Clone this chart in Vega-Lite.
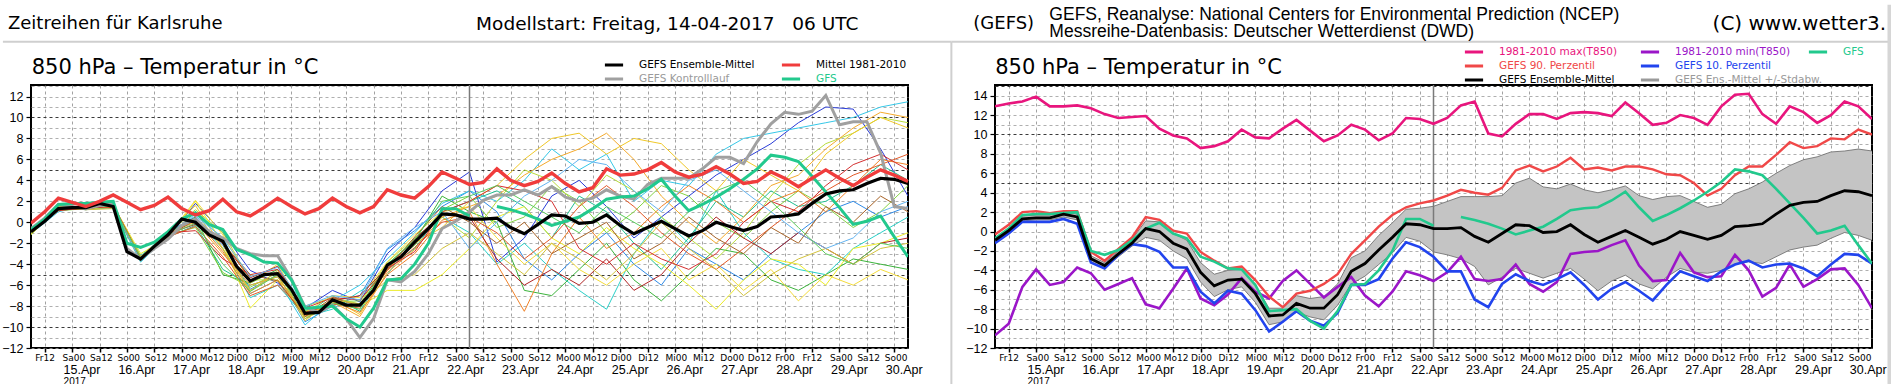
{
"$schema":"https://vega.github.io/schema/vega-lite/v6.json",
"padding":0,
"autosize":{"type":"pad"},
"background":"white",
"bounds":"flush",
"spacing":87,
"config":{"view":{"stroke":"#000","strokeWidth":2},"axis":{"labelColor":"#000","tickColor":"#000","domain":false}},
"resolve":{"scale":{"y":"independent","stroke":"independent","color":"independent"},"legend":{"stroke":"independent","color":"independent"}},
"datasets":{
"ens":[
{"h":0,"s":"m01","v":-1.0},{"h":12,"s":"m01","v":1.2},{"h":24,"s":"m01","v":1.3},{"h":36,"s":"m01","v":1.5},{"h":48,"s":"m01","v":-3.4},{"h":60,"s":"m01","v":-1.5},{"h":72,"s":"m01","v":1.8},{"h":84,"s":"m01","v":-1.0},{"h":96,"s":"m01","v":-4.6},{"h":108,"s":"m01","v":-5.8},{"h":120,"s":"m01","v":-8.2},{"h":132,"s":"m01","v":-6.5},{"h":144,"s":"m01","v":-7.6},{"h":156,"s":"m01","v":-3.0},{"h":168,"s":"m01","v":-0.5},{"h":180,"s":"m01","v":3.0},{"h":192,"s":"m01","v":4.8},{"h":204,"s":"m01","v":-3.8},{"h":216,"s":"m01","v":-1.5},{"h":228,"s":"m01","v":2.5},{"h":240,"s":"m01","v":4.0},{"h":252,"s":"m01","v":1.5},{"h":264,"s":"m01","v":-1.5},{"h":276,"s":"m01","v":0.5},{"h":288,"s":"m01","v":2.5},{"h":300,"s":"m01","v":4.5},{"h":312,"s":"m01","v":6.0},{"h":324,"s":"m01","v":7.5},{"h":336,"s":"m01","v":9.5},{"h":348,"s":"m01","v":11.0},{"h":360,"s":"m01","v":10.8},{"h":372,"s":"m01","v":7.0},{"h":384,"s":"m01","v":2.5},
{"h":0,"s":"m02","v":-0.8},{"h":12,"s":"m02","v":1.4},{"h":24,"s":"m02","v":1.2},{"h":36,"s":"m02","v":1.4},{"h":48,"s":"m02","v":-3.6},{"h":60,"s":"m02","v":-0.9},{"h":72,"s":"m02","v":0.5},{"h":84,"s":"m02","v":-2.2},{"h":96,"s":"m02","v":-6.4},{"h":108,"s":"m02","v":-5.0},{"h":120,"s":"m02","v":-9.5},{"h":132,"s":"m02","v":-8.0},{"h":144,"s":"m02","v":-7.0},{"h":156,"s":"m02","v":-2.6},{"h":168,"s":"m02","v":-0.8},{"h":180,"s":"m02","v":1.5},{"h":192,"s":"m02","v":3.0},{"h":204,"s":"m02","v":1.0},{"h":216,"s":"m02","v":-3.5},{"h":228,"s":"m02","v":-5.5},{"h":240,"s":"m02","v":-3.0},{"h":252,"s":"m02","v":-1.0},{"h":264,"s":"m02","v":-4.0},{"h":276,"s":"m02","v":-6.0},{"h":288,"s":"m02","v":-2.5},{"h":300,"s":"m02","v":-4.0},{"h":312,"s":"m02","v":-5.5},{"h":324,"s":"m02","v":-3.0},{"h":336,"s":"m02","v":-1.0},{"h":348,"s":"m02","v":1.0},{"h":360,"s":"m02","v":2.0},{"h":372,"s":"m02","v":0.5},{"h":384,"s":"m02","v":1.5},
{"h":0,"s":"m03","v":-1.1},{"h":12,"s":"m03","v":1.0},{"h":24,"s":"m03","v":1.6},{"h":36,"s":"m03","v":1.3},{"h":48,"s":"m03","v":-3.8},{"h":60,"s":"m03","v":-1.3},{"h":72,"s":"m03","v":0.8},{"h":84,"s":"m03","v":-1.5},{"h":96,"s":"m03","v":-6.8},{"h":108,"s":"m03","v":-5.5},{"h":120,"s":"m03","v":-9.8},{"h":132,"s":"m03","v":-7.5},{"h":144,"s":"m03","v":-6.0},{"h":156,"s":"m03","v":-3.5},{"h":168,"s":"m03","v":-1.0},{"h":180,"s":"m03","v":1.8},{"h":192,"s":"m03","v":3.0},{"h":204,"s":"m03","v":2.0},{"h":216,"s":"m03","v":4.0},{"h":228,"s":"m03","v":7.0},{"h":240,"s":"m03","v":5.0},{"h":252,"s":"m03","v":6.5},{"h":264,"s":"m03","v":2.0},{"h":276,"s":"m03","v":4.0},{"h":288,"s":"m03","v":3.5},{"h":300,"s":"m03","v":6.5},{"h":312,"s":"m03","v":8.0},{"h":324,"s":"m03","v":8.5},{"h":336,"s":"m03","v":9.0},{"h":348,"s":"m03","v":9.5},{"h":360,"s":"m03","v":10.0},{"h":372,"s":"m03","v":11.0},{"h":384,"s":"m03","v":11.5},
{"h":0,"s":"m04","v":-0.9},{"h":12,"s":"m04","v":1.5},{"h":24,"s":"m04","v":1.5},{"h":36,"s":"m04","v":1.6},{"h":48,"s":"m04","v":-3.2},{"h":60,"s":"m04","v":-1.0},{"h":72,"s":"m04","v":0.2},{"h":84,"s":"m04","v":-2.5},{"h":96,"s":"m04","v":-7.2},{"h":108,"s":"m04","v":-6.0},{"h":120,"s":"m04","v":-9.0},{"h":132,"s":"m04","v":-8.3},{"h":144,"s":"m04","v":-6.6},{"h":156,"s":"m04","v":-5.0},{"h":168,"s":"m04","v":-1.5},{"h":180,"s":"m04","v":0.5},{"h":192,"s":"m04","v":-1.0},{"h":204,"s":"m04","v":-4.0},{"h":216,"s":"m04","v":-2.0},{"h":228,"s":"m04","v":-4.5},{"h":240,"s":"m04","v":-6.5},{"h":252,"s":"m04","v":-8.3},{"h":264,"s":"m04","v":-3.0},{"h":276,"s":"m04","v":0.5},{"h":288,"s":"m04","v":-2.0},{"h":300,"s":"m04","v":3.0},{"h":312,"s":"m04","v":-1.0},{"h":324,"s":"m04","v":-3.5},{"h":336,"s":"m04","v":-4.5},{"h":348,"s":"m04","v":-5.0},{"h":360,"s":"m04","v":-2.5},{"h":372,"s":"m04","v":-1.0},{"h":384,"s":"m04","v":0.5},
{"h":0,"s":"m05","v":-1.0},{"h":12,"s":"m05","v":1.3},{"h":24,"s":"m05","v":1.5},{"h":36,"s":"m05","v":1.5},{"h":48,"s":"m05","v":-3.5},{"h":60,"s":"m05","v":-1.4},{"h":72,"s":"m05","v":-0.3},{"h":84,"s":"m05","v":-4.5},{"h":96,"s":"m05","v":-6.0},{"h":108,"s":"m05","v":-5.2},{"h":120,"s":"m05","v":-8.8},{"h":132,"s":"m05","v":-7.0},{"h":144,"s":"m05","v":-8.5},{"h":156,"s":"m05","v":-4.5},{"h":168,"s":"m05","v":-2.5},{"h":180,"s":"m05","v":1.0},{"h":192,"s":"m05","v":2.0},{"h":204,"s":"m05","v":3.0},{"h":216,"s":"m05","v":1.5},{"h":228,"s":"m05","v":-1.5},{"h":240,"s":"m05","v":2.5},{"h":252,"s":"m05","v":1.0},{"h":264,"s":"m05","v":-2.0},{"h":276,"s":"m05","v":-4.5},{"h":288,"s":"m05","v":-1.5},{"h":300,"s":"m05","v":2.0},{"h":312,"s":"m05","v":0.5},{"h":324,"s":"m05","v":3.0},{"h":336,"s":"m05","v":1.5},{"h":348,"s":"m05","v":2.0},{"h":360,"s":"m05","v":3.5},{"h":372,"s":"m05","v":5.5},{"h":384,"s":"m05","v":4.0},
{"h":0,"s":"m06","v":-0.8},{"h":12,"s":"m06","v":1.2},{"h":24,"s":"m06","v":1.4},{"h":36,"s":"m06","v":1.7},{"h":48,"s":"m06","v":-3.4},{"h":60,"s":"m06","v":-1.0},{"h":72,"s":"m06","v":0.5},{"h":84,"s":"m06","v":-5.0},{"h":96,"s":"m06","v":-5.8},{"h":108,"s":"m06","v":-4.5},{"h":120,"s":"m06","v":-9.2},{"h":132,"s":"m06","v":-7.8},{"h":144,"s":"m06","v":-8.0},{"h":156,"s":"m06","v":-4.0},{"h":168,"s":"m06","v":-1.8},{"h":180,"s":"m06","v":2.5},{"h":192,"s":"m06","v":1.0},{"h":204,"s":"m06","v":0.0},{"h":216,"s":"m06","v":-6.5},{"h":228,"s":"m06","v":-7.0},{"h":240,"s":"m06","v":-4.5},{"h":252,"s":"m06","v":-2.0},{"h":264,"s":"m06","v":-5.5},{"h":276,"s":"m06","v":-7.5},{"h":288,"s":"m06","v":-5.0},{"h":300,"s":"m06","v":-2.5},{"h":312,"s":"m06","v":-3.0},{"h":324,"s":"m06","v":-5.5},{"h":336,"s":"m06","v":-6.5},{"h":348,"s":"m06","v":-5.0},{"h":360,"s":"m06","v":-3.5},{"h":372,"s":"m06","v":-4.0},{"h":384,"s":"m06","v":-4.5},
{"h":0,"s":"m07","v":-0.9},{"h":12,"s":"m07","v":1.1},{"h":24,"s":"m07","v":1.3},{"h":36,"s":"m07","v":1.4},{"h":48,"s":"m07","v":-3.3},{"h":60,"s":"m07","v":-1.2},{"h":72,"s":"m07","v":-0.5},{"h":84,"s":"m07","v":-4.8},{"h":96,"s":"m07","v":-6.2},{"h":108,"s":"m07","v":-4.8},{"h":120,"s":"m07","v":-8.5},{"h":132,"s":"m07","v":-7.6},{"h":144,"s":"m07","v":-7.5},{"h":156,"s":"m07","v":-4.2},{"h":168,"s":"m07","v":-2.2},{"h":180,"s":"m07","v":1.2},{"h":192,"s":"m07","v":2.5},{"h":204,"s":"m07","v":-0.5},{"h":216,"s":"m07","v":0.5},{"h":228,"s":"m07","v":3.5},{"h":240,"s":"m07","v":2.0},{"h":252,"s":"m07","v":-1.0},{"h":264,"s":"m07","v":1.0},{"h":276,"s":"m07","v":3.5},{"h":288,"s":"m07","v":2.5},{"h":300,"s":"m07","v":0.0},{"h":312,"s":"m07","v":-1.5},{"h":324,"s":"m07","v":1.0},{"h":336,"s":"m07","v":3.0},{"h":348,"s":"m07","v":1.5},{"h":360,"s":"m07","v":-0.5},{"h":372,"s":"m07","v":1.0},{"h":384,"s":"m07","v":3.5},
{"h":0,"s":"m08","v":-1.2},{"h":12,"s":"m08","v":1.4},{"h":24,"s":"m08","v":1.2},{"h":36,"s":"m08","v":1.5},{"h":48,"s":"m08","v":-3.7},{"h":60,"s":"m08","v":-1.1},{"h":72,"s":"m08","v":1.2},{"h":84,"s":"m08","v":-1.0},{"h":96,"s":"m08","v":-5.5},{"h":108,"s":"m08","v":-5.5},{"h":120,"s":"m08","v":-8.0},{"h":132,"s":"m08","v":-7.2},{"h":144,"s":"m08","v":-7.8},{"h":156,"s":"m08","v":-3.8},{"h":168,"s":"m08","v":-1.5},{"h":180,"s":"m08","v":0.5},{"h":192,"s":"m08","v":-1.5},{"h":204,"s":"m08","v":2.0},{"h":216,"s":"m08","v":5.0},{"h":228,"s":"m08","v":4.0},{"h":240,"s":"m08","v":1.5},{"h":252,"s":"m08","v":4.5},{"h":264,"s":"m08","v":3.0},{"h":276,"s":"m08","v":0.5},{"h":288,"s":"m08","v":-1.5},{"h":300,"s":"m08","v":-3.5},{"h":312,"s":"m08","v":-1.0},{"h":324,"s":"m08","v":2.5},{"h":336,"s":"m08","v":5.5},{"h":348,"s":"m08","v":7.5},{"h":360,"s":"m08","v":8.5},{"h":372,"s":"m08","v":10.0},{"h":384,"s":"m08","v":9.5},
{"h":0,"s":"m09","v":-0.7},{"h":12,"s":"m09","v":1.5},{"h":24,"s":"m09","v":1.3},{"h":36,"s":"m09","v":1.6},{"h":48,"s":"m09","v":-3.0},{"h":60,"s":"m09","v":-1.5},{"h":72,"s":"m09","v":2.0},{"h":84,"s":"m09","v":-2.0},{"h":96,"s":"m09","v":-8.2},{"h":108,"s":"m09","v":-5.5},{"h":120,"s":"m09","v":-9.0},{"h":132,"s":"m09","v":-7.8},{"h":144,"s":"m09","v":-8.0},{"h":156,"s":"m09","v":-6.5},{"h":168,"s":"m09","v":-6.5},{"h":180,"s":"m09","v":-5.0},{"h":192,"s":"m09","v":-2.5},{"h":204,"s":"m09","v":0.5},{"h":216,"s":"m09","v":1.5},{"h":228,"s":"m09","v":-1.5},{"h":240,"s":"m09","v":-3.0},{"h":252,"s":"m09","v":-0.5},{"h":264,"s":"m09","v":-2.5},{"h":276,"s":"m09","v":-4.0},{"h":288,"s":"m09","v":-6.0},{"h":300,"s":"m09","v":-8.3},{"h":312,"s":"m09","v":-5.5},{"h":324,"s":"m09","v":-3.5},{"h":336,"s":"m09","v":-4.0},{"h":348,"s":"m09","v":-6.0},{"h":360,"s":"m09","v":-2.5},{"h":372,"s":"m09","v":-2.0},{"h":384,"s":"m09","v":-1.0},
{"h":0,"s":"m10","v":-1.0},{"h":12,"s":"m10","v":1.2},{"h":24,"s":"m10","v":1.6},{"h":36,"s":"m10","v":1.4},{"h":48,"s":"m10","v":-3.5},{"h":60,"s":"m10","v":-1.3},{"h":72,"s":"m10","v":2.1},{"h":84,"s":"m10","v":-1.2},{"h":96,"s":"m10","v":-5.8},{"h":108,"s":"m10","v":-4.0},{"h":120,"s":"m10","v":-8.6},{"h":132,"s":"m10","v":-7.0},{"h":144,"s":"m10","v":-7.2},{"h":156,"s":"m10","v":-3.8},{"h":168,"s":"m10","v":-1.2},{"h":180,"s":"m10","v":1.0},{"h":192,"s":"m10","v":1.5},{"h":204,"s":"m10","v":-1.5},{"h":216,"s":"m10","v":-4.0},{"h":228,"s":"m10","v":-2.0},{"h":240,"s":"m10","v":-4.5},{"h":252,"s":"m10","v":-6.0},{"h":264,"s":"m10","v":-4.0},{"h":276,"s":"m10","v":-2.5},{"h":288,"s":"m10","v":-5.5},{"h":300,"s":"m10","v":-4.0},{"h":312,"s":"m10","v":-6.5},{"h":324,"s":"m10","v":-4.5},{"h":336,"s":"m10","v":-7.5},{"h":348,"s":"m10","v":-5.0},{"h":360,"s":"m10","v":-6.0},{"h":372,"s":"m10","v":-4.5},{"h":384,"s":"m10","v":-5.5},
{"h":0,"s":"m11","v":-0.9},{"h":12,"s":"m11","v":1.3},{"h":24,"s":"m11","v":1.4},{"h":36,"s":"m11","v":1.5},{"h":48,"s":"m11","v":-3.6},{"h":60,"s":"m11","v":-0.9},{"h":72,"s":"m11","v":1.6},{"h":84,"s":"m11","v":-2.5},{"h":96,"s":"m11","v":-6.5},{"h":108,"s":"m11","v":-5.0},{"h":120,"s":"m11","v":-9.4},{"h":132,"s":"m11","v":-7.3},{"h":144,"s":"m11","v":-8.8},{"h":156,"s":"m11","v":-4.5},{"h":168,"s":"m11","v":-2.0},{"h":180,"s":"m11","v":-0.5},{"h":192,"s":"m11","v":2.0},{"h":204,"s":"m11","v":3.5},{"h":216,"s":"m11","v":6.0},{"h":228,"s":"m11","v":8.0},{"h":240,"s":"m11","v":8.5},{"h":252,"s":"m11","v":6.5},{"h":264,"s":"m11","v":8.0},{"h":276,"s":"m11","v":7.5},{"h":288,"s":"m11","v":5.0},{"h":300,"s":"m11","v":3.0},{"h":312,"s":"m11","v":6.0},{"h":324,"s":"m11","v":4.5},{"h":336,"s":"m11","v":3.0},{"h":348,"s":"m11","v":6.5},{"h":360,"s":"m11","v":8.5},{"h":372,"s":"m11","v":10.0},{"h":384,"s":"m11","v":9.0},
{"h":0,"s":"m12","v":-1.1},{"h":12,"s":"m12","v":1.2},{"h":24,"s":"m12","v":1.5},{"h":36,"s":"m12","v":1.7},{"h":48,"s":"m12","v":-3.3},{"h":60,"s":"m12","v":-1.0},{"h":72,"s":"m12","v":0.0},{"h":84,"s":"m12","v":-3.0},{"h":96,"s":"m12","v":-6.0},{"h":108,"s":"m12","v":-5.2},{"h":120,"s":"m12","v":-8.9},{"h":132,"s":"m12","v":-7.6},{"h":144,"s":"m12","v":-9.0},{"h":156,"s":"m12","v":-4.8},{"h":168,"s":"m12","v":-2.6},{"h":180,"s":"m12","v":0.5},{"h":192,"s":"m12","v":1.5},{"h":204,"s":"m12","v":2.5},{"h":216,"s":"m12","v":4.5},{"h":228,"s":"m12","v":6.0},{"h":240,"s":"m12","v":7.0},{"h":252,"s":"m12","v":8.5},{"h":264,"s":"m12","v":6.0},{"h":276,"s":"m12","v":2.5},{"h":288,"s":"m12","v":0.0},{"h":300,"s":"m12","v":-2.0},{"h":312,"s":"m12","v":0.5},{"h":324,"s":"m12","v":3.5},{"h":336,"s":"m12","v":4.5},{"h":348,"s":"m12","v":7.0},{"h":360,"s":"m12","v":9.0},{"h":372,"s":"m12","v":10.5},{"h":384,"s":"m12","v":10.0},
{"h":0,"s":"m13","v":-0.8},{"h":12,"s":"m13","v":1.4},{"h":24,"s":"m13","v":1.3},{"h":36,"s":"m13","v":1.6},{"h":48,"s":"m13","v":-3.4},{"h":60,"s":"m13","v":-1.2},{"h":72,"s":"m13","v":0.3},{"h":84,"s":"m13","v":-2.8},{"h":96,"s":"m13","v":-6.8},{"h":108,"s":"m13","v":-5.5},{"h":120,"s":"m13","v":-9.0},{"h":132,"s":"m13","v":-7.6},{"h":144,"s":"m13","v":-8.6},{"h":156,"s":"m13","v":-5.0},{"h":168,"s":"m13","v":-3.0},{"h":180,"s":"m13","v":0.2},{"h":192,"s":"m13","v":1.0},{"h":204,"s":"m13","v":-4.0},{"h":216,"s":"m13","v":-8.5},{"h":228,"s":"m13","v":-3.0},{"h":240,"s":"m13","v":0.5},{"h":252,"s":"m13","v":-2.5},{"h":264,"s":"m13","v":-1.0},{"h":276,"s":"m13","v":1.5},{"h":288,"s":"m13","v":3.5},{"h":300,"s":"m13","v":2.0},{"h":312,"s":"m13","v":0.0},{"h":324,"s":"m13","v":2.0},{"h":336,"s":"m13","v":3.0},{"h":348,"s":"m13","v":1.0},{"h":360,"s":"m13","v":3.5},{"h":372,"s":"m13","v":6.0},{"h":384,"s":"m13","v":5.5},
{"h":0,"s":"m14","v":-1.0},{"h":12,"s":"m14","v":1.3},{"h":24,"s":"m14","v":1.5},{"h":36,"s":"m14","v":1.4},{"h":48,"s":"m14","v":-3.6},{"h":60,"s":"m14","v":-1.4},{"h":72,"s":"m14","v":-0.4},{"h":84,"s":"m14","v":-3.3},{"h":96,"s":"m14","v":-7.0},{"h":108,"s":"m14","v":-6.0},{"h":120,"s":"m14","v":-8.6},{"h":132,"s":"m14","v":-7.8},{"h":144,"s":"m14","v":-8.2},{"h":156,"s":"m14","v":-4.6},{"h":168,"s":"m14","v":-2.4},{"h":180,"s":"m14","v":0.0},{"h":192,"s":"m14","v":0.5},{"h":204,"s":"m14","v":-1.0},{"h":216,"s":"m14","v":-3.5},{"h":228,"s":"m14","v":-1.5},{"h":240,"s":"m14","v":1.5},{"h":252,"s":"m14","v":3.5},{"h":264,"s":"m14","v":1.5},{"h":276,"s":"m14","v":-1.0},{"h":288,"s":"m14","v":-3.0},{"h":300,"s":"m14","v":-4.5},{"h":312,"s":"m14","v":-2.5},{"h":324,"s":"m14","v":-0.5},{"h":336,"s":"m14","v":1.5},{"h":348,"s":"m14","v":3.0},{"h":360,"s":"m14","v":4.5},{"h":372,"s":"m14","v":5.5},{"h":384,"s":"m14","v":6.5},
{"h":0,"s":"m15","v":-0.9},{"h":12,"s":"m15","v":1.1},{"h":24,"s":"m15","v":1.4},{"h":36,"s":"m15","v":1.5},{"h":48,"s":"m15","v":-3.5},{"h":60,"s":"m15","v":-1.0},{"h":72,"s":"m15","v":-0.8},{"h":84,"s":"m15","v":-3.5},{"h":96,"s":"m15","v":-5.0},{"h":108,"s":"m15","v":-4.5},{"h":120,"s":"m15","v":-8.2},{"h":132,"s":"m15","v":-7.2},{"h":144,"s":"m15","v":-7.4},{"h":156,"s":"m15","v":-4.4},{"h":168,"s":"m15","v":-2.8},{"h":180,"s":"m15","v":1.0},{"h":192,"s":"m15","v":2.0},{"h":204,"s":"m15","v":3.5},{"h":216,"s":"m15","v":3.0},{"h":228,"s":"m15","v":2.0},{"h":240,"s":"m15","v":-2.5},{"h":252,"s":"m15","v":-4.0},{"h":264,"s":"m15","v":-2.0},{"h":276,"s":"m15","v":-3.5},{"h":288,"s":"m15","v":-4.5},{"h":300,"s":"m15","v":-3.0},{"h":312,"s":"m15","v":0.0},{"h":324,"s":"m15","v":2.0},{"h":336,"s":"m15","v":1.0},{"h":348,"s":"m15","v":3.5},{"h":360,"s":"m15","v":5.5},{"h":372,"s":"m15","v":6.5},{"h":384,"s":"m15","v":5.0},
{"h":0,"s":"m16","v":-1.0},{"h":12,"s":"m16","v":1.2},{"h":24,"s":"m16","v":1.3},{"h":36,"s":"m16","v":1.6},{"h":48,"s":"m16","v":-3.4},{"h":60,"s":"m16","v":-1.1},{"h":72,"s":"m16","v":-0.2},{"h":84,"s":"m16","v":-2.0},{"h":96,"s":"m16","v":-5.3},{"h":108,"s":"m16","v":-4.2},{"h":120,"s":"m16","v":-8.8},{"h":132,"s":"m16","v":-7.5},{"h":144,"s":"m16","v":-7.0},{"h":156,"s":"m16","v":-4.3},{"h":168,"s":"m16","v":-1.6},{"h":180,"s":"m16","v":0.8},{"h":192,"s":"m16","v":0.5},{"h":204,"s":"m16","v":-3.5},{"h":216,"s":"m16","v":-6.0},{"h":228,"s":"m16","v":-4.5},{"h":240,"s":"m16","v":-6.0},{"h":252,"s":"m16","v":-3.5},{"h":264,"s":"m16","v":-6.5},{"h":276,"s":"m16","v":-5.0},{"h":288,"s":"m16","v":-2.0},{"h":300,"s":"m16","v":0.5},{"h":312,"s":"m16","v":-1.5},{"h":324,"s":"m16","v":-3.0},{"h":336,"s":"m16","v":-1.0},{"h":348,"s":"m16","v":-2.5},{"h":360,"s":"m16","v":-4.0},{"h":372,"s":"m16","v":-2.0},{"h":384,"s":"m16","v":-1.5},
{"h":0,"s":"m17","v":-0.9},{"h":12,"s":"m17","v":1.3},{"h":24,"s":"m17","v":1.5},{"h":36,"s":"m17","v":1.5},{"h":48,"s":"m17","v":-3.5},{"h":60,"s":"m17","v":-1.3},{"h":72,"s":"m17","v":0.2},{"h":84,"s":"m17","v":-2.0},{"h":96,"s":"m17","v":-5.0},{"h":108,"s":"m17","v":-5.6},{"h":120,"s":"m17","v":-9.0},{"h":132,"s":"m17","v":-7.2},{"h":144,"s":"m17","v":-8.0},{"h":156,"s":"m17","v":-4.5},{"h":168,"s":"m17","v":-1.4},{"h":180,"s":"m17","v":1.5},{"h":192,"s":"m17","v":0.0},{"h":204,"s":"m17","v":-2.0},{"h":216,"s":"m17","v":0.0},{"h":228,"s":"m17","v":-3.0},{"h":240,"s":"m17","v":-1.5},{"h":252,"s":"m17","v":0.0},{"h":264,"s":"m17","v":-3.5},{"h":276,"s":"m17","v":-2.0},{"h":288,"s":"m17","v":0.5},{"h":300,"s":"m17","v":-1.5},{"h":312,"s":"m17","v":-3.0},{"h":324,"s":"m17","v":-0.5},{"h":336,"s":"m17","v":-2.0},{"h":348,"s":"m17","v":1.5},{"h":360,"s":"m17","v":0.0},{"h":372,"s":"m17","v":2.5},{"h":384,"s":"m17","v":1.0},
{"h":0,"s":"m18","v":-1.1},{"h":12,"s":"m18","v":1.5},{"h":24,"s":"m18","v":1.2},{"h":36,"s":"m18","v":1.3},{"h":48,"s":"m18","v":-3.3},{"h":60,"s":"m18","v":-1.5},{"h":72,"s":"m18","v":1.0},{"h":84,"s":"m18","v":-2.6},{"h":96,"s":"m18","v":-6.6},{"h":108,"s":"m18","v":-4.6},{"h":120,"s":"m18","v":-9.2},{"h":132,"s":"m18","v":-7.4},{"h":144,"s":"m18","v":-7.8},{"h":156,"s":"m18","v":-5.5},{"h":168,"s":"m18","v":-5.0},{"h":180,"s":"m18","v":-2.5},{"h":192,"s":"m18","v":-1.0},{"h":204,"s":"m18","v":-3.0},{"h":216,"s":"m18","v":-5.0},{"h":228,"s":"m18","v":-2.0},{"h":240,"s":"m18","v":-3.5},{"h":252,"s":"m18","v":-5.5},{"h":264,"s":"m18","v":-3.0},{"h":276,"s":"m18","v":0.0},{"h":288,"s":"m18","v":-2.5},{"h":300,"s":"m18","v":-4.5},{"h":312,"s":"m18","v":-7.0},{"h":324,"s":"m18","v":-5.0},{"h":336,"s":"m18","v":-3.5},{"h":348,"s":"m18","v":-2.5},{"h":360,"s":"m18","v":-4.0},{"h":372,"s":"m18","v":-2.5},{"h":384,"s":"m18","v":-2.0},
{"h":0,"s":"m19","v":-0.8},{"h":12,"s":"m19","v":1.3},{"h":24,"s":"m19","v":1.4},{"h":36,"s":"m19","v":1.6},{"h":48,"s":"m19","v":-3.7},{"h":60,"s":"m19","v":-1.0},{"h":72,"s":"m19","v":0.6},{"h":84,"s":"m19","v":-1.5},{"h":96,"s":"m19","v":-5.2},{"h":108,"s":"m19","v":-4.3},{"h":120,"s":"m19","v":-8.0},{"h":132,"s":"m19","v":-7.0},{"h":144,"s":"m19","v":-7.4},{"h":156,"s":"m19","v":-2.5},{"h":168,"s":"m19","v":-0.5},{"h":180,"s":"m19","v":1.0},{"h":192,"s":"m19","v":-2.5},{"h":204,"s":"m19","v":0.0},{"h":216,"s":"m19","v":2.5},{"h":228,"s":"m19","v":4.0},{"h":240,"s":"m19","v":6.0},{"h":252,"s":"m19","v":5.5},{"h":264,"s":"m19","v":3.0},{"h":276,"s":"m19","v":1.0},{"h":288,"s":"m19","v":4.0},{"h":300,"s":"m19","v":5.0},{"h":312,"s":"m19","v":3.0},{"h":324,"s":"m19","v":1.0},{"h":336,"s":"m19","v":-1.0},{"h":348,"s":"m19","v":-2.5},{"h":360,"s":"m19","v":-1.5},{"h":372,"s":"m19","v":1.0},{"h":384,"s":"m19","v":2.0},
{"h":0,"s":"m20","v":-1.0},{"h":12,"s":"m20","v":1.2},{"h":24,"s":"m20","v":1.6},{"h":36,"s":"m20","v":1.5},{"h":48,"s":"m20","v":-3.4},{"h":60,"s":"m20","v":-1.2},{"h":72,"s":"m20","v":-0.1},{"h":84,"s":"m20","v":-4.0},{"h":96,"s":"m20","v":-6.6},{"h":108,"s":"m20","v":-5.0},{"h":120,"s":"m20","v":-8.4},{"h":132,"s":"m20","v":-7.7},{"h":144,"s":"m20","v":-8.3},{"h":156,"s":"m20","v":-4.0},{"h":168,"s":"m20","v":-1.7},{"h":180,"s":"m20","v":2.0},{"h":192,"s":"m20","v":2.5},{"h":204,"s":"m20","v":3.5},{"h":216,"s":"m20","v":2.0},{"h":228,"s":"m20","v":0.5},{"h":240,"s":"m20","v":-1.0},{"h":252,"s":"m20","v":1.5},{"h":264,"s":"m20","v":0.0},{"h":276,"s":"m20","v":-1.5},{"h":288,"s":"m20","v":1.0},{"h":300,"s":"m20","v":3.0},{"h":312,"s":"m20","v":4.0},{"h":324,"s":"m20","v":2.0},{"h":336,"s":"m20","v":-0.5},{"h":348,"s":"m20","v":-3.0},{"h":360,"s":"m20","v":-4.0},{"h":372,"s":"m20","v":-2.0},{"h":384,"s":"m20","v":-2.5}
],
"ctrl":[{"h":0,"v":-0.6},{"h":6,"v":0.4},{"h":12,"v":1.7},{"h":18,"v":1.5},{"h":24,"v":1.3},{"h":30,"v":1.6},{"h":36,"v":1.8},{"h":42,"v":-2.5},{"h":48,"v":-3.5},{"h":54,"v":-2.5},{"h":60,"v":-1.6},{"h":66,"v":-0.3},{"h":72,"v":0.3},{"h":78,"v":-0.9},{"h":84,"v":-1.5},{"h":90,"v":-2.5},{"h":96,"v":-3.0},{"h":102,"v":-3.2},{"h":108,"v":-3.2},{"h":114,"v":-5.4},{"h":120,"v":-8.1},{"h":126,"v":-8.6},{"h":132,"v":-7.9},{"h":138,"v":-9.2},{"h":144,"v":-11.0},{"h":150,"v":-9.2},{"h":156,"v":-5.5},{"h":162,"v":-5.7},{"h":168,"v":-4.7},{"h":174,"v":-3.0},{"h":180,"v":-0.6},{"h":186,"v":0.1},{"h":192,"v":1.0},{"h":198,"v":2.1},{"h":204,"v":2.6},{"h":210,"v":2.6},{"h":216,"v":3.1},{"h":222,"v":2.6},{"h":228,"v":3.4},{"h":234,"v":2.4},{"h":240,"v":2.0},{"h":246,"v":2.3},{"h":252,"v":3.1},{"h":258,"v":2.5},{"h":264,"v":2.2},{"h":270,"v":3.6},{"h":276,"v":4.2},{"h":282,"v":4.2},{"h":288,"v":4.2},{"h":294,"v":5.1},{"h":300,"v":6.2},{"h":306,"v":6.2},{"h":312,"v":5.6},{"h":318,"v":7.7},{"h":324,"v":9.4},{"h":330,"v":10.5},{"h":336,"v":10.3},{"h":342,"v":10.6},{"h":348,"v":12.1},{"h":354,"v":9.3},{"h":360,"v":9.6},{"h":366,"v":9.6},{"h":372,"v":6.6},{"h":378,"v":1.5},{"h":384,"v":1.3}],
"gfs":[{"h":0,"v":-0.7},{"h":6,"v":0.3},{"h":12,"v":1.7},{"h":18,"v":1.8},{"h":24,"v":1.8},{"h":30,"v":1.9},{"h":36,"v":2.0},{"h":42,"v":-2.0},{"h":48,"v":-2.4},{"h":54,"v":-1.9},{"h":60,"v":-0.9},{"h":66,"v":0.3},{"h":72,"v":0.9},{"h":78,"v":-0.2},{"h":84,"v":-0.7},{"h":90,"v":-2.6},{"h":96,"v":-3.1},{"h":102,"v":-3.8},{"h":108,"v":-3.9},{"h":114,"v":-5.5},{"h":120,"v":-8.2},{"h":126,"v":-8.1},{"h":132,"v":-8.0},{"h":138,"v":-9.2},{"h":144,"v":-10.0},{"h":150,"v":-8.2},{"h":156,"v":-5.5},{"h":162,"v":-5.4},{"h":168,"v":-4.0},{"h":174,"v":-2.0},{"h":180,"v":1.3},{"h":186,"v":1.3},{"h":192,"v":0.6},{"h":198,"v":null},{"h":204,"v":1.5},{"h":210,"v":1.2},{"h":216,"v":0.8},{"h":222,"v":0.3},{"h":228,"v":-0.3},{"h":234,"v":0.1},{"h":240,"v":0.5},{"h":246,"v":1.3},{"h":252,"v":2.2},{"h":258,"v":2.4},{"h":264,"v":2.5},{"h":270,"v":3.2},{"h":276,"v":4.1},{"h":282,"v":2.5},{"h":288,"v":1.1},{"h":294,"v":1.7},{"h":300,"v":2.4},{"h":306,"v":3.2},{"h":312,"v":4.1},{"h":318,"v":5.1},{"h":324,"v":6.4},{"h":330,"v":6.2},{"h":336,"v":5.8},{"h":342,"v":4.4},{"h":348,"v":2.9},{"h":354,"v":1.4},{"h":360,"v":-0.2},{"h":366,"v":0.1},{"h":372,"v":0.6},{"h":378,"v":-1.4},{"h":384,"v":-3.3}],
"mean":[{"h":0,"v":-0.9},{"h":6,"v":0.1},{"h":12,"v":1.3},{"h":18,"v":1.4},{"h":24,"v":1.4},{"h":30,"v":1.8},{"h":36,"v":1.5},{"h":42,"v":-2.8},{"h":48,"v":-3.5},{"h":54,"v":-2.3},{"h":60,"v":-1.2},{"h":66,"v":0.3},{"h":72,"v":0.0},{"h":78,"v":-1.2},{"h":84,"v":-1.8},{"h":90,"v":-4.2},{"h":96,"v":-5.6},{"h":102,"v":-5.0},{"h":108,"v":-4.9},{"h":114,"v":-6.4},{"h":120,"v":-8.7},{"h":126,"v":-8.6},{"h":132,"v":-7.4},{"h":138,"v":-7.9},{"h":144,"v":-7.9},{"h":150,"v":-6.5},{"h":156,"v":-4.1},{"h":162,"v":-3.3},{"h":168,"v":-1.9},{"h":174,"v":-0.6},{"h":180,"v":0.8},{"h":186,"v":0.7},{"h":192,"v":0.3},{"h":198,"v":0.3},{"h":204,"v":0.4},{"h":210,"v":-0.5},{"h":216,"v":-1.1},{"h":222,"v":-0.2},{"h":228,"v":0.7},{"h":234,"v":0.6},{"h":240,"v":-0.1},{"h":246,"v":0.0},{"h":252,"v":0.7},{"h":258,"v":-0.3},{"h":264,"v":-1.1},{"h":270,"v":-0.5},{"h":276,"v":0.1},{"h":282,"v":-0.6},{"h":288,"v":-1.3},{"h":294,"v":-0.8},{"h":300,"v":0.0},{"h":306,"v":-0.4},{"h":312,"v":-0.8},{"h":318,"v":-0.4},{"h":324,"v":0.5},{"h":330,"v":0.6},{"h":336,"v":0.8},{"h":342,"v":1.8},{"h":348,"v":2.7},{"h":354,"v":3.0},{"h":360,"v":3.1},{"h":366,"v":3.7},{"h":372,"v":4.2},{"h":378,"v":4.1},{"h":384,"v":3.7}],
"clim":[{"h":0,"v":-0.1},{"h":6,"v":1.0},{"h":12,"v":2.3},{"h":18,"v":1.9},{"h":24,"v":1.5},{"h":30,"v":2.0},{"h":36,"v":2.6},{"h":42,"v":1.9},{"h":48,"v":1.2},{"h":54,"v":1.6},{"h":60,"v":2.4},{"h":66,"v":1.3},{"h":72,"v":0.7},{"h":78,"v":1.1},{"h":84,"v":2.2},{"h":90,"v":1.0},{"h":96,"v":0.6},{"h":102,"v":1.4},{"h":108,"v":2.3},{"h":114,"v":1.5},{"h":120,"v":0.8},{"h":126,"v":1.3},{"h":132,"v":2.3},{"h":138,"v":1.5},{"h":144,"v":0.9},{"h":150,"v":1.5},{"h":156,"v":3.1},{"h":162,"v":2.6},{"h":168,"v":2.3},{"h":174,"v":3.4},{"h":180,"v":4.8},{"h":186,"v":4.2},{"h":192,"v":3.6},{"h":198,"v":3.8},{"h":204,"v":5.1},{"h":210,"v":4.0},{"h":216,"v":3.5},{"h":222,"v":3.9},{"h":228,"v":4.7},{"h":234,"v":3.7},{"h":240,"v":2.9},{"h":246,"v":3.3},{"h":252,"v":5.1},{"h":258,"v":4.5},{"h":264,"v":4.6},{"h":270,"v":5.0},{"h":276,"v":5.7},{"h":282,"v":4.8},{"h":288,"v":4.3},{"h":294,"v":4.6},{"h":300,"v":5.3},{"h":306,"v":4.6},{"h":312,"v":3.7},{"h":318,"v":3.9},{"h":324,"v":4.8},{"h":330,"v":4.2},{"h":336,"v":3.4},{"h":342,"v":4.2},{"h":348,"v":5.0},{"h":354,"v":4.2},{"h":360,"v":3.5},{"h":366,"v":4.3},{"h":372,"v":5.0},{"h":378,"v":4.5},{"h":384,"v":3.9}],
"max":[{"h":0,"v":12.9},{"h":6,"v":13.2},{"h":12,"v":13.4},{"h":18,"v":13.9},{"h":24,"v":12.9},{"h":30,"v":12.9},{"h":36,"v":13.0},{"h":42,"v":12.7},{"h":48,"v":12.1},{"h":54,"v":11.7},{"h":60,"v":11.8},{"h":66,"v":11.9},{"h":72,"v":10.6},{"h":78,"v":9.9},{"h":84,"v":9.6},{"h":90,"v":8.6},{"h":96,"v":8.8},{"h":102,"v":9.3},{"h":108,"v":10.5},{"h":114,"v":9.7},{"h":120,"v":9.6},{"h":126,"v":10.6},{"h":132,"v":11.5},{"h":138,"v":10.4},{"h":144,"v":9.3},{"h":150,"v":9.9},{"h":156,"v":11.0},{"h":162,"v":10.5},{"h":168,"v":9.4},{"h":174,"v":10.1},{"h":180,"v":11.7},{"h":186,"v":11.6},{"h":192,"v":11.1},{"h":198,"v":11.7},{"h":204,"v":13.0},{"h":210,"v":13.4},{"h":216,"v":10.1},{"h":222,"v":9.8},{"h":228,"v":11.1},{"h":234,"v":12.1},{"h":240,"v":12.1},{"h":246,"v":11.6},{"h":252,"v":12.2},{"h":258,"v":12.3},{"h":264,"v":12.2},{"h":270,"v":11.9},{"h":276,"v":13.3},{"h":282,"v":12.2},{"h":288,"v":11.0},{"h":294,"v":11.2},{"h":300,"v":12.0},{"h":306,"v":11.7},{"h":312,"v":11.0},{"h":318,"v":12.9},{"h":324,"v":14.1},{"h":330,"v":14.2},{"h":336,"v":12.1},{"h":342,"v":11.1},{"h":348,"v":12.9},{"h":354,"v":12.3},{"h":360,"v":11.2},{"h":366,"v":12.0},{"h":372,"v":13.4},{"h":378,"v":12.9},{"h":384,"v":11.6}],
"min":[{"h":0,"v":-10.7},{"h":6,"v":-9.5},{"h":12,"v":-5.7},{"h":18,"v":-3.9},{"h":24,"v":-5.5},{"h":30,"v":-5.2},{"h":36,"v":-3.7},{"h":42,"v":-4.3},{"h":48,"v":-6.0},{"h":54,"v":-5.4},{"h":60,"v":-4.8},{"h":66,"v":-7.5},{"h":72,"v":-7.9},{"h":78,"v":-5.9},{"h":84,"v":-3.8},{"h":90,"v":-6.9},{"h":96,"v":-7.6},{"h":102,"v":-6.5},{"h":108,"v":-4.8},{"h":114,"v":-6.2},{"h":120,"v":-6.9},{"h":126,"v":-5.1},{"h":132,"v":-4.0},{"h":138,"v":-5.4},{"h":144,"v":-6.8},{"h":150,"v":-5.7},{"h":156,"v":-4.7},{"h":162,"v":-6.6},{"h":168,"v":-7.7},{"h":174,"v":-6.2},{"h":180,"v":-4.1},{"h":186,"v":-4.5},{"h":192,"v":-5.1},{"h":198,"v":-4.2},{"h":204,"v":-2.6},{"h":210,"v":-4.9},{"h":216,"v":-5.1},{"h":222,"v":-4.9},{"h":228,"v":-3.4},{"h":234,"v":-5.4},{"h":240,"v":-6.2},{"h":246,"v":-5.2},{"h":252,"v":-2.3},{"h":258,"v":-2.1},{"h":264,"v":-2.0},{"h":270,"v":-1.4},{"h":276,"v":-0.9},{"h":282,"v":-3.5},{"h":288,"v":-5.1},{"h":294,"v":-5.0},{"h":300,"v":-2.2},{"h":306,"v":-4.2},{"h":312,"v":-4.7},{"h":318,"v":-4.6},{"h":324,"v":-2.4},{"h":330,"v":-4.0},{"h":336,"v":-6.7},{"h":342,"v":-5.8},{"h":348,"v":-3.4},{"h":354,"v":-5.7},{"h":360,"v":-4.9},{"h":366,"v":-3.9},{"h":372,"v":-3.8},{"h":378,"v":-5.5},{"h":384,"v":-7.9}],
"p90":[{"h":0,"v":-0.3},{"h":6,"v":0.7},{"h":12,"v":2.0},{"h":18,"v":2.1},{"h":24,"v":1.9},{"h":30,"v":2.1},{"h":36,"v":2.1},{"h":42,"v":-2.1},{"h":48,"v":-3.0},{"h":54,"v":-1.8},{"h":60,"v":-0.6},{"h":66,"v":1.5},{"h":72,"v":1.2},{"h":78,"v":0.1},{"h":84,"v":-0.2},{"h":90,"v":-2.1},{"h":96,"v":-3.0},{"h":102,"v":-3.8},{"h":108,"v":-3.6},{"h":114,"v":-5.0},{"h":120,"v":-6.7},{"h":126,"v":-7.8},{"h":132,"v":-6.4},{"h":138,"v":-6.1},{"h":144,"v":-5.4},{"h":150,"v":-4.4},{"h":156,"v":-2.3},{"h":162,"v":-0.9},{"h":168,"v":0.5},{"h":174,"v":1.7},{"h":180,"v":2.5},{"h":186,"v":2.9},{"h":192,"v":3.2},{"h":198,"v":3.7},{"h":204,"v":4.3},{"h":210,"v":4.0},{"h":216,"v":3.8},{"h":222,"v":4.5},{"h":228,"v":6.3},{"h":234,"v":6.8},{"h":240,"v":6.2},{"h":246,"v":6.7},{"h":252,"v":7.6},{"h":258,"v":6.4},{"h":264,"v":6.6},{"h":270,"v":6.3},{"h":276,"v":6.7},{"h":282,"v":6.7},{"h":288,"v":6.4},{"h":294,"v":5.9},{"h":300,"v":5.8},{"h":306,"v":5.0},{"h":312,"v":3.7},{"h":318,"v":4.4},{"h":324,"v":5.8},{"h":330,"v":6.7},{"h":336,"v":6.7},{"h":342,"v":7.9},{"h":348,"v":9.2},{"h":354,"v":8.6},{"h":360,"v":8.8},{"h":366,"v":9.6},{"h":372,"v":9.5},{"h":378,"v":10.5},{"h":384,"v":10.0}],
"p10":[{"h":0,"v":-1.2},{"h":6,"v":-0.2},{"h":12,"v":1.0},{"h":18,"v":1.0},{"h":24,"v":1.0},{"h":30,"v":1.3},{"h":36,"v":0.8},{"h":42,"v":-3.2},{"h":48,"v":-3.8},{"h":54,"v":-2.4},{"h":60,"v":-1.3},{"h":66,"v":-1.5},{"h":72,"v":-2.1},{"h":78,"v":-3.7},{"h":84,"v":-3.7},{"h":90,"v":-6.2},{"h":96,"v":-7.4},{"h":102,"v":-6.1},{"h":108,"v":-6.4},{"h":114,"v":-8.1},{"h":120,"v":-10.3},{"h":126,"v":-9.3},{"h":132,"v":-8.2},{"h":138,"v":-9.2},{"h":144,"v":-9.7},{"h":150,"v":-8.4},{"h":156,"v":-5.5},{"h":162,"v":-5.5},{"h":168,"v":-4.9},{"h":174,"v":-2.8},{"h":180,"v":-1.1},{"h":186,"v":-1.6},{"h":192,"v":-2.6},{"h":198,"v":-4.1},{"h":204,"v":-4.1},{"h":210,"v":-7.0},{"h":216,"v":-7.8},{"h":222,"v":-5.4},{"h":228,"v":-4.4},{"h":234,"v":-5.1},{"h":240,"v":-5.5},{"h":246,"v":-4.9},{"h":252,"v":-4.2},{"h":258,"v":-5.5},{"h":264,"v":-7.0},{"h":270,"v":-5.9},{"h":276,"v":-5.2},{"h":282,"v":-6.1},{"h":288,"v":-7.1},{"h":294,"v":-5.5},{"h":300,"v":-4.1},{"h":306,"v":-4.6},{"h":312,"v":-5.1},{"h":318,"v":-4.1},{"h":324,"v":-3.4},{"h":330,"v":-3.0},{"h":336,"v":-3.7},{"h":342,"v":-3.4},{"h":348,"v":-3.3},{"h":354,"v":-3.8},{"h":360,"v":-4.6},{"h":366,"v":-3.4},{"h":372,"v":-2.3},{"h":378,"v":-2.4},{"h":384,"v":-3.3}],
"band":[{"h":0,"lo":-1.1,"hi":-0.7},{"h":6,"lo":-0.1,"hi":0.3},{"h":12,"lo":1.1,"hi":1.6},{"h":18,"lo":1.2,"hi":1.7},{"h":24,"lo":1.2,"hi":1.7},{"h":30,"lo":1.5,"hi":2.0},{"h":36,"lo":1.2,"hi":1.8},{"h":42,"lo":-3.1,"hi":-2.5},{"h":48,"lo":-3.8,"hi":-3.2},{"h":54,"lo":-2.6,"hi":-2.0},{"h":60,"lo":-1.5,"hi":-0.8},{"h":66,"lo":-0.6,"hi":1.1},{"h":72,"lo":-0.9,"hi":1.0},{"h":78,"lo":-2.0,"hi":-0.2},{"h":84,"lo":-2.8,"hi":-0.9},{"h":90,"lo":-5.2,"hi":-3.2},{"h":96,"lo":-6.7,"hi":-4.4},{"h":102,"lo":-6.0,"hi":-4.0},{"h":108,"lo":-5.7,"hi":-3.9},{"h":114,"lo":-7.3,"hi":-5.5},{"h":120,"lo":-9.6,"hi":-7.9},{"h":126,"lo":-9.3,"hi":-7.9},{"h":132,"lo":-8.3,"hi":-6.6},{"h":138,"lo":-8.8,"hi":-6.9},{"h":144,"lo":-9.1,"hi":-6.7},{"h":150,"lo":-7.6,"hi":-5.4},{"h":156,"lo":-5.4,"hi":-2.7},{"h":162,"lo":-4.6,"hi":-2.0},{"h":168,"lo":-3.4,"hi":-0.4},{"h":174,"lo":-2.2,"hi":0.9},{"h":180,"lo":-0.6,"hi":2.3},{"h":186,"lo":-1.0,"hi":2.4},{"h":192,"lo":-2.1,"hi":2.6},{"h":198,"lo":-2.4,"hi":3.1},{"h":204,"lo":-2.8,"hi":3.6},{"h":210,"lo":-3.6,"hi":3.6},{"h":216,"lo":-5.5,"hi":3.6},{"h":222,"lo":-4.7,"hi":3.7},{"h":228,"lo":-3.8,"hi":5.0},{"h":234,"lo":-4.3,"hi":5.5},{"h":240,"lo":-4.8,"hi":4.6},{"h":246,"lo":-4.3,"hi":4.4},{"h":252,"lo":-3.8,"hi":4.9},{"h":258,"lo":-4.9,"hi":4.3},{"h":264,"lo":-6.1,"hi":4.0},{"h":270,"lo":-5.1,"hi":4.3},{"h":276,"lo":-4.5,"hi":4.7},{"h":282,"lo":-5.4,"hi":3.7},{"h":288,"lo":-5.9,"hi":3.3},{"h":294,"lo":-4.7,"hi":3.6},{"h":300,"lo":-3.8,"hi":3.7},{"h":306,"lo":-4.2,"hi":3.1},{"h":312,"lo":-4.3,"hi":2.5},{"h":318,"lo":-4.0,"hi":2.8},{"h":324,"lo":-3.4,"hi":3.9},{"h":330,"lo":-3.1,"hi":4.4},{"h":336,"lo":-3.3,"hi":5.1},{"h":342,"lo":-2.6,"hi":6.0},{"h":348,"lo":-1.9,"hi":6.8},{"h":354,"lo":-1.6,"hi":7.4},{"h":360,"lo":-1.4,"hi":7.7},{"h":366,"lo":-0.7,"hi":8.2},{"h":372,"lo":-0.1,"hi":8.3},{"h":378,"lo":-0.4,"hi":8.5},{"h":384,"lo":-0.9,"hi":8.3}],
"one":[{"k":1}]
},
"hconcat":[
{
"width":877,"height":263,
"resolve":{"axis":{"x":"independent","y":"independent"}},
"layer":[
{"data":{"name":"ens"},"mark":{"type":"line","strokeWidth":1,"clip":true},
 "encoding":{
  "x":{"field":"h","type":"quantitative","scale":{"domain":[0,384],"nice":false,"zero":false},
   "axis":{"orient":"bottom","title":null,"values":[6,18,30,42,54,66,78,90,102,114,126,138,150,162,174,186,198,210,222,234,246,258,270,282,294,306,318,330,342,354,366,378],"labelExpr":"['Fr','Sa','So','Mo','Di','Mi','Do'][floor((datum.value+6)/24)%7]+((datum.value+6)%24==0?'00':'12')","labelFont":"DejaVu Sans","labelFontSize":9,"labelAlign":"left","labelOffset":-10,"labelBaseline":"top","labelPadding":1,"labelOverlap":false,"labelFlush":false,"tickSize":4,"tickWidth":1.5,"grid":true,"gridColor":"#8a8a8a","gridDash":[3,3],"gridWidth":0.8}},
  "y":{"field":"v","type":"quantitative","scale":{"domain":[-12,13.1],"nice":false,"zero":false},
   "axis":{"orient":"left","title":null,"values":[-12,-11,-10,-9,-8,-7,-6,-5,-4,-3,-2,-1,0,1,2,3,4,5,6,7,8,9,10,11,12,13],"labels":false,"ticks":false,"grid":true,"gridDash":[3,3],"gridColor":{"condition":{"test":"datum.value!=0 && datum.value%5==0","value":"#3a3a3a"},"value":"#9a9a9a"},"gridWidth":{"condition":{"test":"datum.value!=0 && datum.value%5==0","value":1.1},"value":0.8}}},
  "color":{"field":"s","type":"nominal","legend":null,"scale":{"range":["#2a3cd8","#2f8ae6","#36c8e8","#2ad0c8","#22c092","#3cb43c","#84d444","#b8dc3c","#ecec28","#f4dc3c","#f0c828","#f4aa2c","#f08228","#e45a28","#d43030","#b02424","#a86428","#d2c23c","#64b4f0","#5ccc5c"]}}
 }},
{"data":{"name":"one"},"mark":{"type":"rule","color":"#7a7a7a","strokeWidth":1.5},
 "encoding":{"x":{"datum":192,"type":"quantitative","axis":{"orient":"bottom","title":null,"values":[18,42,66,90,114,138,162,186,210,234,258,282,306,330,354,378],"labelExpr":"(floor((datum.value+6)/24)+14)+'.Apr'","labelFont":"Liberation Sans","labelFontSize":12.5,"labelAlign":"left","labelOffset":-9,"labelBaseline":"top","labelPadding":15,"labelOverlap":false,"labelFlush":false,"ticks":false,"tickSize":0,"grid":false}}}},
{"data":{"name":"ctrl"},"mark":{"type":"line","strokeWidth":3,"clip":true},
 "encoding":{"x":{"field":"h","type":"quantitative","axis":null},
  "y":{"field":"v","type":"quantitative","axis":{"orient":"left","title":null,"values":[-12,-10,-8,-6,-4,-2,0,2,4,6,8,10,12],"labelOverlap":false,"labelFont":"Liberation Sans","labelFontSize":12.5,"labelPadding":3,"tickSize":5,"tickWidth":1.2,"grid":false}},
  "stroke":{"datum":"ctrl","type":"nominal","scale":{"domain":["mean","clim","ctrl","gfs"],"range":["#000000","#f03c3c","#a0a0a0","#22c98d"]},
   "legend":{"orient":"none","legendX":575,"legendY":-28,"title":null,"columns":2,"direction":"horizontal","symbolType":"M-1.4,0H1.4","symbolSize":169,"symbolStrokeWidth":3,"labelFont":"DejaVu Sans","labelFontSize":10.5,"labelOffset":17,"columnPadding":20,"rowPadding":0,"padding":0,"labelExpr":"datum.value=='mean'?'GEFS Ensemble-Mittel':datum.value=='clim'?'Mittel 1981-2010':datum.value=='ctrl'?'GEFS Kontrolllauf':'GFS'",
    "encoding":{"labels":{"fill":{"condition":[{"test":"datum.value=='ctrl'","value":"#9a9a9a"},{"test":"datum.value=='gfs'","value":"#22c98d"}],"value":"#000000"}}}}}}},
{"data":{"name":"gfs"},"mark":{"type":"line","strokeWidth":3,"clip":true,"invalid":"break-paths-show-domains"},
 "encoding":{"x":{"field":"h","type":"quantitative","axis":null},"y":{"field":"v","type":"quantitative","axis":null},"stroke":{"datum":"gfs","type":"nominal"}}},
{"data":{"name":"mean"},"mark":{"type":"line","strokeWidth":3.2,"clip":true},
 "encoding":{"x":{"field":"h","type":"quantitative","axis":null},"y":{"field":"v","type":"quantitative","axis":null},"stroke":{"datum":"mean","type":"nominal"}}},
{"data":{"name":"clim"},"mark":{"type":"line","strokeWidth":3.4,"clip":true},
 "encoding":{"x":{"field":"h","type":"quantitative","axis":{"orient":"bottom","title":null,"values":[18],"labelExpr":"'2017'","labelFont":"Liberation Sans","labelFontSize":10,"labelAlign":"left","labelOffset":-9,"labelBaseline":"top","labelPadding":28,"labelOverlap":false,"labelFlush":false,"ticks":false,"tickSize":0,"grid":false}},"y":{"field":"v","type":"quantitative","axis":null},"stroke":{"datum":"clim","type":"nominal"}}},
{"data":{"name":"one"},"mark":{"type":"rule","color":"#cfcfcf","strokeWidth":2},
 "encoding":{"x":{"datum":-12.3,"type":"quantitative","axis":null},"x2":{"datum":403},"y":{"datum":17.23,"type":"quantitative","axis":null}}},
{"data":{"name":"one"},"mark":{"type":"text","text":"Zeitreihen für Karlsruhe","align":"left","baseline":"middle","font":"DejaVu Sans","fontSize":18,"color":"#000"},
 "encoding":{"x":{"datum":-10.1,"type":"quantitative","axis":null},"y":{"datum":18.95,"type":"quantitative","axis":null}}},
{"data":{"name":"one"},"mark":{"type":"text","text":"Modellstart: Freitag, 14-04-2017\u00a0\u00a0\u00a006 UTC","align":"left","baseline":"middle","font":"DejaVu Sans","fontSize":18.5,"color":"#000"},
 "encoding":{"x":{"datum":194.9,"type":"quantitative","axis":null},"y":{"datum":18.95,"type":"quantitative","axis":null}}},
{"data":{"name":"one"},"mark":{"type":"text","text":"850 hPa – Temperatur in °C","align":"left","baseline":"alphabetic","font":"DejaVu Sans","fontSize":21,"color":"#000"},
 "encoding":{"x":{"datum":0.3,"type":"quantitative","axis":null},"y":{"datum":14.11,"type":"quantitative","axis":null}}}
]
},
{
"width":877,"height":263,
"resolve":{"axis":{"x":"independent","y":"independent"}},
"layer":[
{"data":{"name":"band"},"mark":{"type":"area","color":"#c4c4c4","clip":true},
 "encoding":{
  "x":{"field":"h","type":"quantitative","scale":{"domain":[0,384],"nice":false,"zero":false},
   "axis":{"orient":"bottom","title":null,"values":[6,18,30,42,54,66,78,90,102,114,126,138,150,162,174,186,198,210,222,234,246,258,270,282,294,306,318,330,342,354,366,378],"labelExpr":"['Fr','Sa','So','Mo','Di','Mi','Do'][floor((datum.value+6)/24)%7]+((datum.value+6)%24==0?'00':'12')","labelFont":"DejaVu Sans","labelFontSize":9,"labelAlign":"left","labelOffset":-10,"labelBaseline":"top","labelPadding":1,"labelOverlap":false,"labelFlush":false,"tickSize":4,"tickWidth":1.5,"grid":true,"gridColor":"#8a8a8a","gridDash":[3,3],"gridWidth":0.8}},
  "y":{"field":"lo","type":"quantitative","scale":{"domain":[-12,15.1],"nice":false,"zero":false},
   "axis":{"orient":"left","title":null,"values":[-12,-11,-10,-9,-8,-7,-6,-5,-4,-3,-2,-1,0,1,2,3,4,5,6,7,8,9,10,11,12,13,14,15],"labels":false,"ticks":false,"grid":true,"gridDash":[3,3],"gridColor":{"condition":{"test":"datum.value!=0 && datum.value%5==0","value":"#3a3a3a"},"value":"#9a9a9a"},"gridWidth":{"condition":{"test":"datum.value!=0 && datum.value%5==0","value":1.1},"value":0.8}}},
  "y2":{"field":"hi"}
 }},
{"data":{"name":"band"},"mark":{"type":"line","strokeWidth":0.8,"color":"#666666","clip":true},
 "encoding":{"x":{"field":"h","type":"quantitative","axis":null},"y":{"field":"hi","type":"quantitative","axis":null}}},
{"data":{"name":"band"},"mark":{"type":"line","strokeWidth":0.8,"color":"#666666","clip":true},
 "encoding":{"x":{"field":"h","type":"quantitative","axis":null},"y":{"field":"lo","type":"quantitative","axis":null}}},
{"data":{"name":"one"},"mark":{"type":"rule","color":"#7a7a7a","strokeWidth":1.5},
 "encoding":{"x":{"datum":192,"type":"quantitative","axis":{"orient":"bottom","title":null,"values":[18,42,66,90,114,138,162,186,210,234,258,282,306,330,354,378],"labelExpr":"(floor((datum.value+6)/24)+14)+'.Apr'","labelFont":"Liberation Sans","labelFontSize":12.5,"labelAlign":"left","labelOffset":-9,"labelBaseline":"top","labelPadding":15,"labelOverlap":false,"labelFlush":false,"ticks":false,"tickSize":0,"grid":false}}}},
{"data":{"name":"max"},"mark":{"type":"line","strokeWidth":2.6,"clip":true},
 "encoding":{"x":{"field":"h","type":"quantitative","axis":null},
  "y":{"field":"v","type":"quantitative","axis":{"orient":"left","title":null,"values":[-12,-10,-8,-6,-4,-2,0,2,4,6,8,10,12,14],"labelOverlap":false,"labelFont":"Liberation Sans","labelFontSize":12.5,"labelPadding":3,"tickSize":5,"tickWidth":1.2,"grid":false}},
  "stroke":{"datum":"max","type":"nominal","scale":{"domain":["max","min","p90","p10","mean","sd"],"range":["#e8157d","#9b16c8","#f04848","#2244ee","#000000","#9a9a9a"]},
   "legend":{"orient":"none","legendX":471,"legendY":-41,"title":null,"columns":2,"direction":"horizontal","symbolType":"M-1.4,0H1.4","symbolSize":169,"symbolStrokeWidth":3,"labelFont":"DejaVu Sans","labelFontSize":10.5,"labelOffset":17,"columnPadding":16,"rowPadding":0,"padding":0,
    "labelExpr":"datum.value=='max'?'1981-2010 max(T850)':datum.value=='min'?'1981-2010 min(T850)':datum.value=='p90'?'GEFS 90. Perzentil':datum.value=='p10'?'GEFS 10. Perzentil':datum.value=='mean'?'GEFS Ensemble-Mittel':'GEFS Ens.-Mittel +/-Stdabw.'",
    "encoding":{"labels":{"fill":{"condition":[{"test":"datum.value=='max'","value":"#e8157d"},{"test":"datum.value=='min'","value":"#9b16c8"},{"test":"datum.value=='p90'","value":"#f04848"},{"test":"datum.value=='p10'","value":"#2244ee"},{"test":"datum.value=='sd'","value":"#9a9a9a"}],"value":"#000000"}}}}}}},
{"data":{"name":"min"},"mark":{"type":"line","strokeWidth":2.6,"clip":true},
 "encoding":{"x":{"field":"h","type":"quantitative","axis":null},"y":{"field":"v","type":"quantitative","axis":null},"stroke":{"datum":"min","type":"nominal"}}},
{"data":{"name":"p90"},"mark":{"type":"line","strokeWidth":2.4,"clip":true},
 "encoding":{"x":{"field":"h","type":"quantitative","axis":null},"y":{"field":"v","type":"quantitative","axis":null},"stroke":{"datum":"p90","type":"nominal"}}},
{"data":{"name":"p10"},"mark":{"type":"line","strokeWidth":2.6,"clip":true},
 "encoding":{"x":{"field":"h","type":"quantitative","axis":null},"y":{"field":"v","type":"quantitative","axis":null},"stroke":{"datum":"p10","type":"nominal"}}},
{"data":{"name":"gfs"},"mark":{"type":"line","strokeWidth":2.6,"clip":true,"invalid":"break-paths-show-domains"},
 "encoding":{"x":{"field":"h","type":"quantitative","axis":null},"y":{"field":"v","type":"quantitative","axis":null},
  "color":{"datum":"gfs","type":"nominal","scale":{"domain":["gfs"],"range":["#22c98d"]},
   "legend":{"orient":"none","legendX":815,"legendY":-41,"title":null,"symbolType":"M-1.4,0H1.4","symbolSize":169,"symbolStrokeWidth":3,"labelFont":"DejaVu Sans","labelFontSize":10.5,"labelOffset":17,"rowPadding":0,"padding":0,"labelExpr":"'GFS'","labelColor":"#22c98d"}}}},
{"data":{"name":"mean"},"mark":{"type":"line","strokeWidth":2.8,"clip":true},
 "encoding":{"x":{"field":"h","type":"quantitative","axis":{"orient":"bottom","title":null,"values":[18],"labelExpr":"'2017'","labelFont":"Liberation Sans","labelFontSize":10,"labelAlign":"left","labelOffset":-9,"labelBaseline":"top","labelPadding":28,"labelOverlap":false,"labelFlush":false,"ticks":false,"tickSize":0,"grid":false}},"y":{"field":"v","type":"quantitative","axis":null},"stroke":{"datum":"mean","type":"nominal"}}},
{"data":{"name":"one"},"mark":{"type":"rule","color":"#cfcfcf","strokeWidth":2},
 "encoding":{"x":{"datum":-19.1,"type":"quantitative","axis":null},"x2":{"datum":391},"y":{"datum":19.56,"type":"quantitative","axis":null}}},
{"data":{"name":"one"},"mark":{"type":"rule","color":"#cfcfcf","strokeWidth":2},
 "encoding":{"x":{"datum":-19.1,"type":"quantitative","axis":null},"y":{"datum":19.56,"type":"quantitative","axis":null},"y2":{"datum":-15.88}}},
{"data":{"name":"one"},"mark":{"type":"rule","color":"#d6d6d6","strokeWidth":6},
 "encoding":{"x":{"datum":392.1,"type":"quantitative","axis":null},"y":{"datum":23.37,"type":"quantitative","axis":null},"y2":{"datum":-15.88}}},
{"data":{"name":"one"},"mark":{"type":"text","text":"(GEFS)","align":"left","baseline":"middle","font":"DejaVu Sans","fontSize":18,"color":"#000"},
 "encoding":{"x":{"datum":-9.5,"type":"quantitative","axis":null},"y":{"datum":21.42,"type":"quantitative","axis":null}}},
{"data":{"name":"one"},"mark":{"type":"text","text":"GEFS, Reanalyse: National Centers for Environmental Prediction (NCEP)","align":"left","baseline":"middle","font":"Liberation Sans","fontSize":17.5,"color":"#000"},
 "encoding":{"x":{"datum":23.8,"type":"quantitative","axis":null},"y":{"datum":22.34,"type":"quantitative","axis":null}}},
{"data":{"name":"one"},"mark":{"type":"text","text":"Messreihe-Datenbasis: Deutscher Wetterdienst (DWD)","align":"left","baseline":"middle","font":"Liberation Sans","fontSize":17.5,"color":"#000"},
 "encoding":{"x":{"datum":23.8,"type":"quantitative","axis":null},"y":{"datum":20.59,"type":"quantitative","axis":null}}},
{"data":{"name":"one"},"mark":{"type":"text","text":"(C) www.wetter3.","align":"left","baseline":"middle","font":"DejaVu Sans","fontSize":20,"color":"#000"},
 "encoding":{"x":{"datum":314.2,"type":"quantitative","axis":null},"y":{"datum":21.42,"type":"quantitative","axis":null}}},
{"data":{"name":"one"},"mark":{"type":"text","text":"850 hPa – Temperatur in °C","align":"left","baseline":"alphabetic","font":"DejaVu Sans","fontSize":21,"color":"#000"},
 "encoding":{"x":{"datum":0.1,"type":"quantitative","axis":null},"y":{"datum":16.19,"type":"quantitative","axis":null}}}
]
}
]
}
